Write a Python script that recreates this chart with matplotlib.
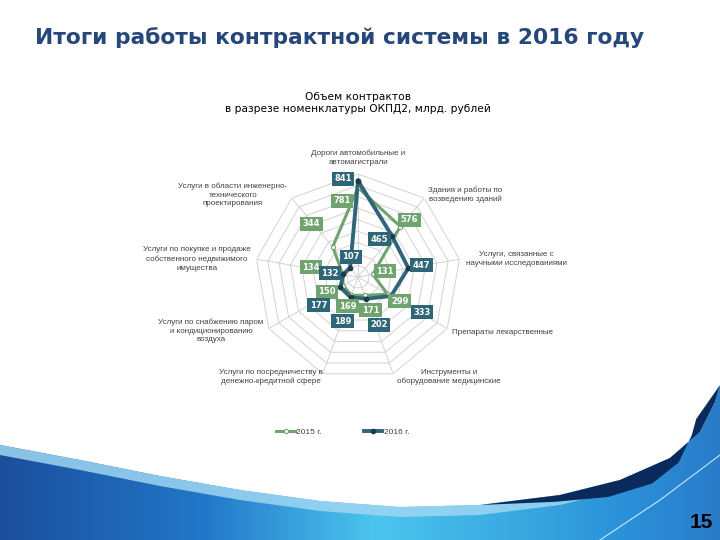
import numpy as np
import matplotlib
matplotlib.use("Agg")
import matplotlib.pyplot as plt
from matplotlib.patches import Polygon
from matplotlib.colors import LinearSegmentedColormap

plt.rcParams['font.family'] = ['DejaVu Sans']

categories = [
    "Дороги автомобильные и\nавтомагистрали",
    "Здания и работы по\nвозведению зданий",
    "Услуги, связанные с\nнаучными исследованиями",
    "Препараты лекарственные",
    "Инструменты и\nоборудование медицинские",
    "Услуги по посредничеству в\nденежно-кредитной сфере",
    "Услуги по снабжению паром\nи кондиционированию\nвоздуха",
    "Услуги по покупке и продаже\nсобственного недвижимого\nимущества",
    "Услуги в области инженерно-\nтехнического\nпроектирования",
]
values_2015 = [781, 576, 131, 299, 171, 169, 150, 134, 344]
values_2016 = [841, 465, 447, 333, 202, 189, 177, 132, 107]
r_ticks = [100, 200, 300, 400, 500, 600, 700, 800, 900]
series_names = ["2015 г.", "2016 г."]

title = "Итоги работы контрактной системы в 2016 году"
chart_title = "Объем контрактов\nв разрезе номенклатуры ОКПД2, млрд. рублей"

# layout (pixels, y from top)
W, H = 720, 540
label_xy = [(358, 158), (465, 195), (516, 259), (502, 332), (449, 377),
            (271, 377), (211, 331), (197, 259), (233, 195)]
off_2015 = [(-16, -13), (9, 7), (12, 3), (12, -7), (6, -15),
            (-4, -11), (-16, -6), (-32, 7), (-21, 23)]
off_2016 = [(-15, 2), (-13, -3), (13, 3), (31, -16), (13, -26),
            (-8, -24), (-22, -18), (-13, 1), (1, 11)]

c15 = "#6fa36f"
c16 = "#2e6578"
small = ['Liberation Sans', 'DejaVu Sans']

fig = plt.figure(figsize=(7.2, 5.4), dpi=100)

# background swoosh
bg = fig.add_axes([0, 0, 1, 1], zorder=-5)
bg.set_xlim(0, W)
bg.set_ylim(H, 0)
bg.axis('off')
bx = np.array([0, 80, 160, 240, 320, 400, 480, 560, 620, 670, 700, 715, 720])
by = np.array([445, 460, 476, 490, 501, 507, 505, 495, 480, 458, 432, 402, 385])
wave = Polygon(np.column_stack([np.r_[bx, W, 0], np.r_[by, H, H]]),
               closed=True, facecolor='none', edgecolor='none')
bg.add_patch(wave)
cmap = LinearSegmentedColormap.from_list(
    "sw", [(0, "#1b4f9c"), (0.28, "#2277c8"), (0.52, "#4cc5ee"),
           (0.72, "#39a9e0"), (0.88, "#2a8fd8"), (1, "#2a7cc8")])
grad = np.tile(np.linspace(0, 1, 400), (60, 1))
im = bg.imshow(grad, cmap=cmap, extent=[0, W, H, 380], aspect='auto', zorder=1)
im.set_clip_path(wave)
band = Polygon(np.column_stack([np.r_[bx[:9], bx[8::-1]],
                                np.r_[by[:9], by[8::-1] + 10]]),
               closed=True, facecolor="#9ed6f2", edgecolor='none', alpha=0.85, zorder=2)
bg.add_patch(band)
thick = np.clip((bx - 520) / 200.0, 0, 1) * 34
dark = Polygon(np.column_stack([np.r_[bx[6:], bx[:5:-1] - thick[:5:-1] * 0.7],
                                np.r_[by[6:], by[:5:-1] + thick[:5:-1]]]),
               closed=True, facecolor="#0b2a5c", edgecolor='none', zorder=3)
bg.add_patch(dark)
bg.plot([600, 660, 700, 720], [540, 500, 470, 455], color="#bfeaff", lw=0.8, zorder=3)
bg.text(701, 522, "15", ha='center', va='center', fontsize=15,
        fontweight='bold', color='black', family=small, zorder=4)

fig.text(35 / W, 1 - 38 / H, title, fontsize=15.7, fontweight='bold',
         color="#26477a", ha='left', va='center')
fig.text(358 / W, 1 - 103 / H, chart_title, fontsize=7.7, ha='center',
         va='center', linespacing=1.2, color='black')

# radar
R = 103
ax = fig.add_axes([(358 - R) / W, (H - 277 - R) / H, 2 * R / W, 2 * R / H],
                  projection='polar')
ax.set_theta_zero_location('N')
ax.set_theta_direction(-1)
n = len(categories)
ang = np.linspace(0, 2 * np.pi, n, endpoint=False)
ang_c = np.r_[ang, ang[0]]
ax.set_ylim(0, r_ticks[-1])
ax.grid(False)
ax.spines['polar'].set_visible(False)
ax.set_xticks([])
ax.set_yticks([])
ax.patch.set_alpha(0)

for r in r_ticks:
    ax.plot(ang_c, [r] * (n + 1), color="#d2d2d2", lw=0.7, zorder=1)
for a in ang:
    ax.plot([a, a], [0, r_ticks[-1]], color="#d2d2d2", lw=0.7, zorder=1)

v15 = np.r_[values_2015, values_2015[0]]
v16 = np.r_[values_2016, values_2016[0]]
ax.plot(ang_c, v15, color=c15, lw=2.2, marker='o', ms=3, mfc='white',
        mec=c15, mew=0.8, zorder=3, label=series_names[0])
ax.plot(ang_c, v16, color=c16, lw=2.8, marker='o', ms=3, mfc="#1e3b45",
        mec="#1e3b45", zorder=4, label=series_names[1])

for vals, offs, col in [(values_2015, off_2015, c15), (values_2016, off_2016, c16)]:
    for a, v, (dx, dy) in zip(ang, vals, offs):
        ax.annotate(str(v), (a, v), xytext=(dx, dy), textcoords='offset pixels',
                    ha='center', va='center', fontsize=6, fontweight='bold',
                    color='white', zorder=6,
                    bbox=dict(boxstyle='square,pad=0.3', fc=col, ec='none'))

for lab, (x, y) in zip(categories, label_xy):
    fig.text(x / W, 1 - y / H, lab, ha='center', va='center', fontsize=5.8,
             linespacing=1.35, color="#404040", family=small)

handles, labels = ax.get_legend_handles_labels()
leg = fig.legend(handles, labels, loc='center', bbox_to_anchor=(343 / W, 1 - 432 / H),
                 ncol=2, frameon=False, columnspacing=5, handlelength=2.2,
                 handletextpad=0.2, prop={'size': 6, 'family': small})
for t in leg.get_texts():
    t.set_color("#404040")

fig.savefig("out.png", dpi=100)
